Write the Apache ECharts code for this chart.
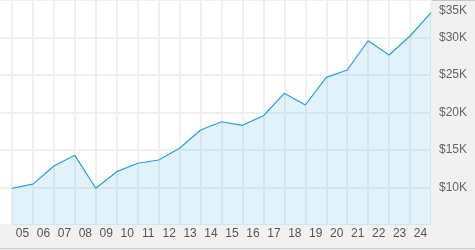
<!DOCTYPE html>
<html>
<head>
<meta charset="utf-8">
<script src="https://cdn.jsdelivr.net/npm/echarts@6/dist/echarts.min.js"></script>
<style>
html,body{margin:0;padding:0;background:#f1f1f1;}
#c{width:475px;height:250px;}
</style>
</head>
<body>
<div id="c"></div>
<script>
// Year labels (centered within each year)
var years = ['05','06','07','08','09','10','11','12','13','14','15','16','17','18','19','20','21','22','23','24'];
// Values at year boundaries (start of 05 ... end of 24)
var values = [9900, 10450, 12870, 14290, 9900, 12110, 13230, 13670, 15230, 17670, 18770, 18290, 19570, 22560, 21000, 24690, 25670, 29570, 27670, 30200, 33310];
// Y tick values
var yMin = 5000, yMax = 35000, yStep = 5000;

var pointIdx = values.map(function (v, i) { return String(i); });

var chart = echarts.init(document.getElementById('c'), null, {renderer: 'canvas'});
var gridLineColor = '#f0f0f0';
var font = 'Liberation Sans, Arial, sans-serif';

chart.setOption({
  backgroundColor: '#f1f1f1',
  animation: false,
  grid: [
    {left: 12, right: 44, top: 0, bottom: 25, show: true, backgroundColor: '#ffffff', borderWidth: 0},
    {left: 0, width: 12, top: 0, bottom: 25, show: true, backgroundColor: '#ffffff', borderWidth: 0}
  ],
  xAxis: [
    {
      type: 'category', gridIndex: 0, data: pointIdx, boundaryGap: false,
      axisLine: {show: false}, axisTick: {show: false}, axisLabel: {show: false},
      splitLine: {show: true, lineStyle: {color: gridLineColor, width: 2}}
    },
    {
      type: 'category', gridIndex: 0, data: years, boundaryGap: true, position: 'bottom',
      axisLine: {show: false}, axisTick: {show: false},
      axisLabel: {show: true, interval: 0, color: '#555', fontSize: 12, fontFamily: font, margin: 3},
      splitLine: {show: false}
    },
    {
      type: 'category', gridIndex: 1, data: [''], show: false
    }
  ],
  yAxis: [
    {
      type: 'value', gridIndex: 0, position: 'right', min: yMin, max: yMax, interval: yStep,
      axisLine: {show: false}, axisTick: {show: false},
      splitLine: {show: true, lineStyle: {color: gridLineColor, width: 2}},
      axisLabel: {
        color: '#666', fontSize: 12, fontFamily: font, margin: 8,
        formatter: function (v) {
          if (v === yMin) return '';
          var s = '$' + (v / 1000) + 'K';
          if (v === yMax) return '{t|' + s + '}';
          return s;
        },
        rich: {t: {color: '#666', fontSize: 12, fontFamily: font, padding: [21, 0, 0, 0]}}
      }
    },
    {
      type: 'value', gridIndex: 1, min: yMin, max: yMax, interval: yStep,
      axisLine: {show: false}, axisTick: {show: false}, axisLabel: {show: false},
      splitLine: {show: true, lineStyle: {color: gridLineColor, width: 2}}
    }
  ],
  series: [{
    type: 'line', xAxisIndex: 0, yAxisIndex: 0, data: values,
    symbol: 'none', smooth: false,
    lineStyle: {color: '#22a0e0', width: 1.2},
    areaStyle: {color: 'rgba(34,160,224,0.19)', origin: 'start'}
  }],
  graphic: [
    {type: 'rect', left: 0, top: 0, shape: {width: 475, height: 1}, style: {fill: '#c8c8c8'}, silent: true},
    {type: 'rect', left: 0, top: 248, shape: {width: 475, height: 1}, style: {fill: '#c8c8c8'}, silent: true}
  ]
});
</script>
</body>
</html>
